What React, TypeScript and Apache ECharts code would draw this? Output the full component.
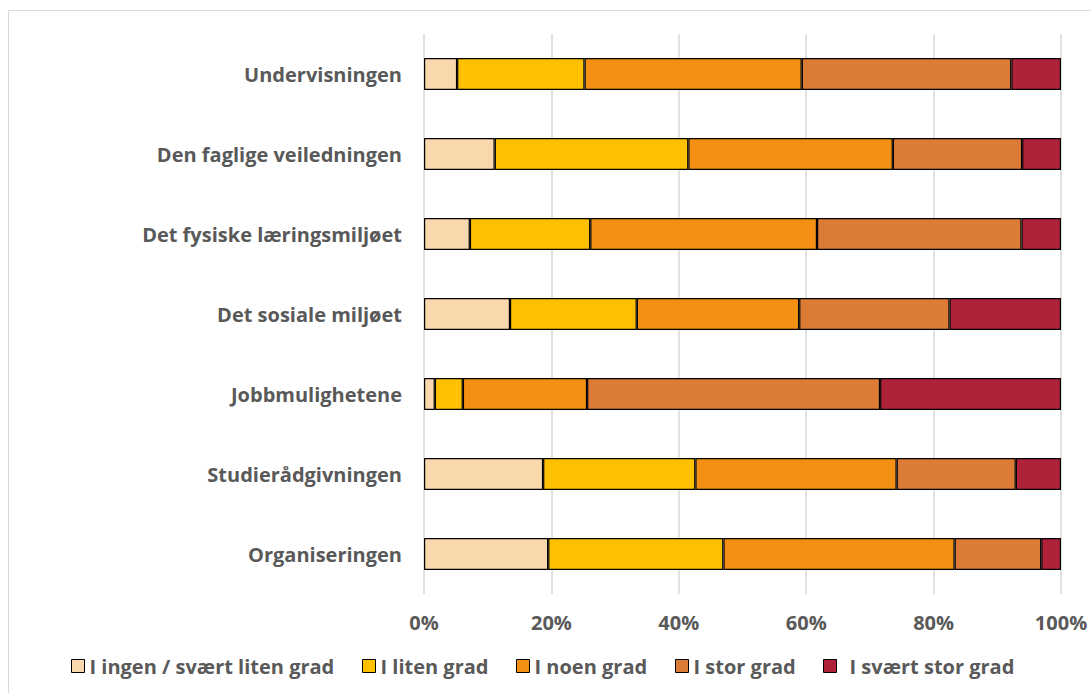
import React, { useEffect, useRef } from "react";
import * as echarts from "echarts";

const categories = [
  "Undervisningen",
  "Den faglige veiledningen",
  "Det fysiske læringsmiljøet",
  "Det sosiale miljøet",
  "Jobbmulighetene",
  "Studierådgivningen",
  "Organiseringen",
];

const seriesNames = [
  "I ingen / svært liten grad",
  "I liten grad",
  "I noen grad",
  "I stor grad",
  "I svært stor grad",
];

const ingen = [5.2, 11.1, 7.2, 13.5, 1.7, 18.7, 19.5];
const liten = [20.0, 30.4, 18.9, 19.9, 4.4, 23.9, 27.5];
const noen = [34.1, 32.1, 35.6, 25.5, 19.5, 31.6, 36.3];
const stor = [32.9, 20.3, 32.1, 23.6, 46.0, 18.7, 13.6];
const sværtStor = [7.8, 6.1, 6.2, 17.5, 28.4, 7.1, 3.1];

const seriesValues = [ingen, liten, noen, stor, sværtStor];
const colors = ["#F9D8AE", "#FFC000", "#F38F12", "#DC7B36", "#AF2239"];
const xTicks = [0, 20, 40, 60, 80, 100];
const legendLeft = [66, 357, 511, 670, 818];

const FONT = "'Open Sans', sans-serif";
const TEXT_COLOR = "#595959";
const FS = 20;

export default function App() {
  const ref = useRef<HTMLDivElement>(null);
  useEffect(() => {
    if (!ref.current) return;
    const chart = echarts.init(ref.current, undefined, { renderer: "svg" });
    chart.setOption({
      animation: false,
      backgroundColor: "#ffffff",
      textStyle: { fontFamily: FONT },
      graphic: [
        {
          type: "rect",
          shape: { x: 8.5, y: 10.5, width: 1200, height: 800 },
          style: { fill: "none", stroke: "#d9d9d9", lineWidth: 1 },
          silent: true,
          z: -10,
        },
      ],
      legend: seriesNames.map((n, i) => ({
        data: [n],
        left: legendLeft[i],
        top: 651,
        itemWidth: 13,
        itemHeight: 13,
        icon: "rect",
        itemStyle: { borderColor: "#000", borderWidth: 1 },
        textStyle: {
          fontFamily: FONT,
          fontSize: FS,
          fontWeight: "bold",
          color: TEXT_COLOR,
          padding: [0, 0, 0, i === 4 ? 8 : 0],
        },
        selectedMode: false,
      })),
      grid: { left: 424, right: 30, top: 34, bottom: 99, containLabel: false },
      xAxis: {
        type: "value",
        min: xTicks[0],
        max: xTicks[xTicks.length - 1],
        interval: 20,
        axisLine: { show: false },
        axisTick: { show: false },
        splitLine: { show: true, lineStyle: { color: "#d9d9d9", width: 1.5 } },
        axisLabel: {
          formatter: "{value}%",
          fontFamily: FONT,
          fontSize: FS,
          fontWeight: "bold",
          color: TEXT_COLOR,
          margin: 18,
        },
      },
      yAxis: {
        type: "category",
        data: categories,
        inverse: true,
        axisLine: { show: false },
        axisTick: { show: false },
        axisLabel: {
          fontFamily: FONT,
          fontSize: FS,
          fontWeight: "bold",
          color: TEXT_COLOR,
          margin: 22,
        },
      },
      series: seriesValues.map((vals, i) => ({
        name: seriesNames[i],
        type: "bar",
        stack: "total",
        barWidth: 32,
        data: vals,
        itemStyle: { color: colors[i], borderColor: "#000", borderWidth: 1.2 },
      })),
    });
    return () => chart.dispose();
  }, []);
  return (
    <div
      ref={ref}
      style={{ position: "fixed", left: 0, top: 0, width: 1091, height: 693 }}
    />
  );
}
